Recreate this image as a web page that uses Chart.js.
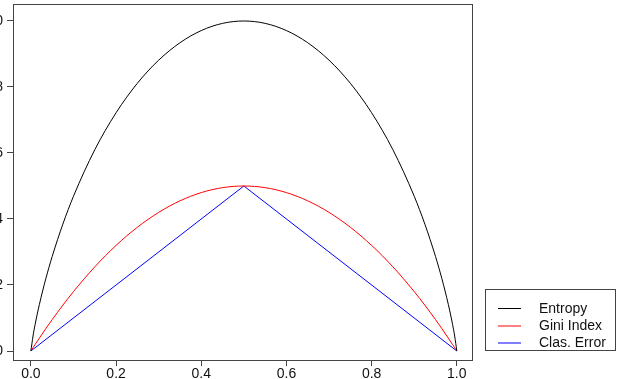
<!DOCTYPE html>
<html>
<head>
<meta charset="utf-8">
<script src="https://cdn.jsdelivr.net/npm/chart.js@4/dist/chart.umd.min.js"></script>
<style>
  html, body { margin: 0; padding: 0; background: #ffffff; }
  #wrap { width: 621px; height: 379px; }
</style>
</head>
<body>
<div id="wrap"><canvas id="c" width="621" height="379"></canvas></div>
<script>
const seriesNames = ["Entropy", "Gini Index", "Clas. Error"];
const pValues = [0, 0.005, 0.01, 0.02, 0.035, 0.05, 0.075, 0.1, 0.15, 0.2, 0.25, 0.3, 0.35, 0.4, 0.45, 0.5,
  0.55, 0.6, 0.65, 0.7, 0.75, 0.8, 0.85, 0.9, 0.925, 0.95, 0.965, 0.98, 0.99, 0.995, 1];
const entropyValues = [0, 0.0454, 0.0808, 0.1414, 0.2189, 0.2864, 0.3843, 0.469, 0.6098, 0.7219, 0.8113, 0.8813, 0.9341, 0.971, 0.9928, 1,
  0.9928, 0.971, 0.9341, 0.8813, 0.8113, 0.7219, 0.6098, 0.469, 0.3843, 0.2864, 0.2189, 0.1414, 0.0808, 0.0454, 0];
const giniValues = [0, 0.00995, 0.0198, 0.0392, 0.0676, 0.095, 0.1388, 0.18, 0.255, 0.32, 0.375, 0.42, 0.455, 0.48, 0.495, 0.5,
  0.495, 0.48, 0.455, 0.42, 0.375, 0.32, 0.255, 0.18, 0.1388, 0.095, 0.0676, 0.0392, 0.0198, 0.00995, 0];
const errorP = [0, 0.5, 1];
const errorValues = [0, 0.5, 0];
const xTicks = [0, 0.2, 0.4, 0.6, 0.8, 1.0];
const yTicks = [0, 0.2, 0.4, 0.6, 0.8, 1.0];
const seriesColors = ["#000000", "#ff0000", "#0000ff"];

const toPts = (xs, ys) => xs.map((x, i) => ({ x: x, y: ys[i] }));

const FONT = "Liberation Sans, Arial, Helvetica, sans-serif";

const boxPlugin = {
  id: "boxPlugin",
  afterDraw(chart) {
    const ctx = chart.ctx;
    const a = chart.chartArea;
    ctx.save();
    ctx.strokeStyle = "#444444";
    ctx.lineWidth = 1;
    ctx.strokeRect(Math.round(a.left) + 0.5, Math.round(a.top) + 0.5,
      Math.round(a.right - a.left) - 1, Math.round(a.bottom - a.top) - 1);
    // legend
    const lx = 485.5, ly = 289.5, lw = 130, lh = 61;
    ctx.strokeStyle = "#444444";
    ctx.strokeRect(lx, ly, lw, lh);
    const rows = [308.5, 326, 343];
    ctx.font = "14px " + FONT;
    ctx.textBaseline = "middle";
    ctx.textAlign = "left";
    chart.data.datasets.forEach((ds, i) => {
      ctx.strokeStyle = ds.borderColor;
      ctx.lineWidth = 1;
      ctx.beginPath();
      ctx.moveTo(498, rows[i]);
      ctx.lineTo(521, rows[i]);
      ctx.stroke();
      ctx.fillStyle = "#111111";
      ctx.fillText(ds.label, 539, rows[i] + 0.5);
    });
    ctx.restore();
  }
};

new Chart(document.getElementById("c"), {
  type: "line",
  data: {
    datasets: [
      { label: seriesNames[0], data: toPts(pValues, entropyValues), borderColor: seriesColors[0], borderWidth: 1, pointRadius: 0, fill: false, cubicInterpolationMode: "monotone" },
      { label: seriesNames[1], data: toPts(pValues, giniValues), borderColor: seriesColors[1], borderWidth: 1, pointRadius: 0, fill: false, cubicInterpolationMode: "monotone" },
      { label: seriesNames[2], data: toPts(errorP, errorValues), borderColor: seriesColors[2], borderWidth: 1, pointRadius: 0, fill: false, tension: 0 }
    ]
  },
  options: {
    responsive: false,
    animation: false,
    layout: { padding: { top: 4, right: 148, left: 0, bottom: 0 } },
    plugins: { legend: { display: false }, tooltip: { enabled: false } },
    scales: {
      x: {
        type: "linear",
        min: -0.042,
        max: 1.038,
        afterBuildTicks: (s) => { s.ticks = xTicks.map(v => ({ value: v })); },
        afterFit: (s) => { s.height = 18; s.paddingLeft = 0; s.paddingRight = 0; },
        border: { display: false },
        grid: { drawOnChartArea: false, drawTicks: true, tickLength: 5, color: "#444444", tickColor: "#444444" },
        ticks: { color: "#111111", font: { family: FONT, size: 14 }, padding: 0, maxRotation: 0, autoSkip: false, callback: (v) => Number(v).toFixed(1) }
      },
      y: {
        type: "linear",
        min: -0.0303,
        max: 1.0515,
        afterBuildTicks: (s) => { s.ticks = yTicks.map(v => ({ value: v })); },
        afterFit: (s) => { s.width = 13; s.paddingTop = 0; s.paddingBottom = 0; },
        border: { display: false },
        grid: { drawOnChartArea: false, drawTicks: true, tickLength: 6, color: "#444444", tickColor: "#444444" },
        ticks: { color: "#111111", font: { family: FONT, size: 14 }, padding: 4, autoSkip: false, callback: (v) => Number(v).toFixed(1) }
      }
    }
  },
  plugins: [boxPlugin]
});
</script>
</body>
</html>
